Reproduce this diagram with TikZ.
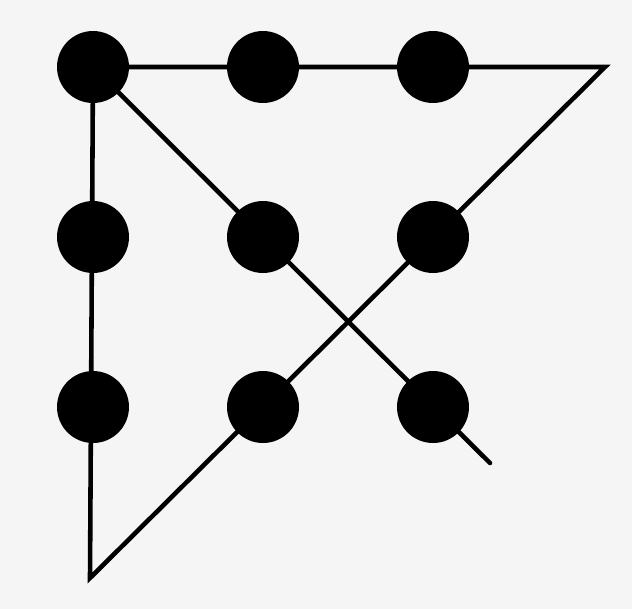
\documentclass[tikz,border=0pt]{standalone}
\begin{document}
\begin{tikzpicture}[
    x=0.02cm, y=-0.02cm,
    dot/.style={
        circle,
        fill=black,
        inner sep=0pt,
        minimum size=1.44cm
    },
    stroke/.style={
        draw=black,
        line width=2.6pt,
        line cap=round,
        line join=miter
    }
]

%--- Background ---
\fill[black!4] (0,0) rectangle (632,609);
\useasboundingbox (0,0) rectangle (632,609);

%--- 3x3 dots ---
\foreach \r in {1,2,3} {
    \foreach \c in {1,2,3} {
        \node[dot] (d\r\c) at ({93+170*(\c-1)}, {67+170*(\r-1)}) {};
    }
}

%--- Free corners of the path ---
\coordinate (tr)  at (605, 67);
\coordinate (bl)  at (90, 578);
\coordinate (end) at (490, 463);

%--- Four strokes ---
\draw[stroke] (d11.center) -- (tr) -- (bl) -- (d11.center) -- (end);

\end{tikzpicture}
\end{document}
